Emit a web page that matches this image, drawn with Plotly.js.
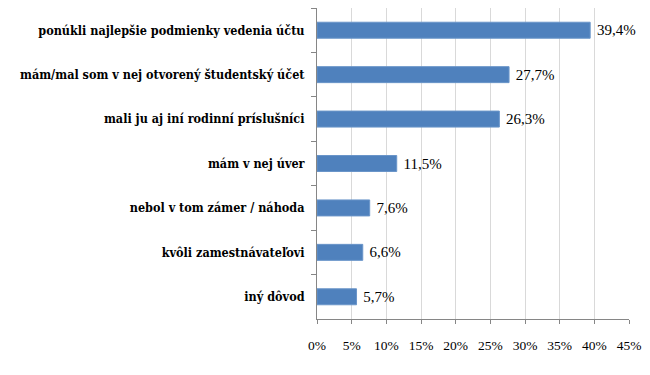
<!DOCTYPE html>
<html>
<head>
<meta charset="utf-8">
<script src="https://cdn.plot.ly/plotly-3.0.1.min.js"></script>
<style>html,body{margin:0;padding:0;background:#fff;}#chart{width:650px;height:375px;}</style>
</head>
<body>
<div id="chart"></div>
<script>
var categories = [
  "ponúkli najlepšie podmienky vedenia účtu",
  "mám/mal som v nej otvorený študentský účet",
  "mali ju aj iní rodinní príslušníci",
  "mám v nej úver",
  "nebol v tom zámer / náhoda",
  "kvôli zamestnávateľovi",
  "iný dôvod"
];
var values = [39.4, 27.7, 26.3, 11.5, 7.6, 6.6, 5.7];
var valueLabels = ["39,4%", "27,7%", "26,3%", "11,5%", "7,6%", "6,6%", "5,7%"];
var xTickVals = [0, 5, 10, 15, 20, 25, 30, 35, 40, 45];
var xTickText = ["0%", "5%", "10%", "15%", "20%", "25%", "30%", "35%", "40%", "45%"];

var serif = "Liberation Serif";
var boldSerif = "DejaVu Serif Condensed";

var trace = {
  type: "bar",
  orientation: "h",
  y: categories,
  x: values,
  text: valueLabels.map(function(s){ return " " + s; }),
  textposition: "outside",
  cliponaxis: false,
  textfont: {family: serif, size: 15, color: "#000"},
  marker: {color: "#4F81BD", line: {color: "#6a95c9", width: 1}},
  width: 0.36,
  hoverinfo: "none"
};

var layout = {
  width: 650,
  height: 375,
  margin: {l: 317, r: 21, t: 8, b: 56},
  paper_bgcolor: "#fff",
  plot_bgcolor: "#fff",
  showlegend: false,
  font: {family: serif},
  xaxis: {
    range: [0, 45],
    tickvals: xTickVals,
    ticktext: xTickText,
    showgrid: true,
    gridcolor: "#d9d9d9",
    gridwidth: 1,
    zeroline: false,
    showline: true,
    linecolor: "#868686",
    linewidth: 1,
    ticks: "outside",
    ticklen: 4,
    tickcolor: "#868686",
    ticklabelstandoff: 10,
    tickfont: {family: serif, size: 13.5, color: "#000"},
    fixedrange: true
  },
  yaxis: {
    type: "category",
    categoryorder: "array",
    categoryarray: categories,
    autorange: "reversed",
    showgrid: false,
    zeroline: false,
    showline: true,
    linecolor: "#868686",
    linewidth: 1,
    ticks: "outside",
    tickson: "boundaries",
    ticklen: 5,
    tickcolor: "#868686",
    ticklabelstandoff: 9,
    tickfont: {family: boldSerif, size: 12.5, color: "#000", weight: 700},
    fixedrange: true
  }
};

Plotly.newPlot("chart", [trace], layout, {displayModeBar: false, staticPlot: true});
</script>
</body>
</html>
